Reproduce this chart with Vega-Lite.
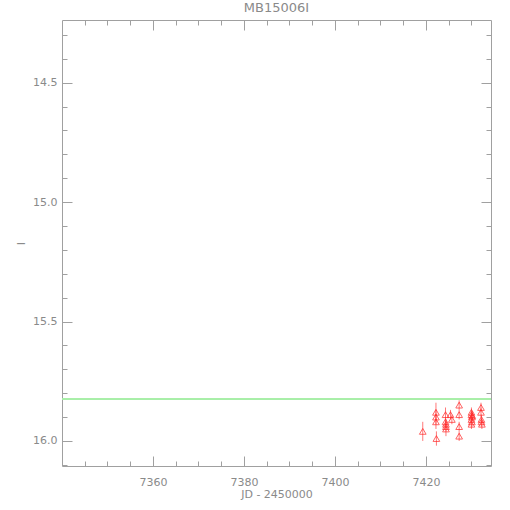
{
  "$schema": "https://vega.github.io/schema/vega-lite/v6.json",
  "autosize": "none",
  "width": 429,
  "height": 446,
  "padding": {"left": 62, "top": 20, "right": 19, "bottom": 44},
  "background": "white",
  "title": {"text": "MB15006I", "color": "#8a8a8a", "font": "DejaVu Sans", "fontSize": 13, "fontWeight": "normal", "offset": 5},
  "config": {
    "view": {"stroke": null},
    "axis": {"domainColor": "#a0a0a0", "tickColor": "#a0a0a0", "labelColor": "#8a8a8a", "titleColor": "#8a8a8a", "labelFont": "DejaVu Sans", "titleFont": "DejaVu Sans", "labelFontSize": 11, "titleFontSize": 11, "titleFontWeight": "normal", "grid": false}
  },
  "data": {"values": [
    {"jd": 7419.3, "mag": 15.96, "err": 0.04},
    {"jd": 7422.2, "mag": 15.88, "err": 0.04},
    {"jd": 7422.2, "mag": 15.90, "err": 0.03},
    {"jd": 7422.2, "mag": 15.92, "err": 0.03},
    {"jd": 7422.3, "mag": 15.99, "err": 0.03},
    {"jd": 7424.3, "mag": 15.89, "err": 0.03},
    {"jd": 7424.3, "mag": 15.92, "err": 0.02},
    {"jd": 7424.4, "mag": 15.93, "err": 0.02},
    {"jd": 7424.4, "mag": 15.94, "err": 0.02},
    {"jd": 7424.4, "mag": 15.95, "err": 0.03},
    {"jd": 7425.4, "mag": 15.89, "err": 0.02},
    {"jd": 7425.7, "mag": 15.91, "err": 0.02},
    {"jd": 7427.3, "mag": 15.85, "err": 0.02},
    {"jd": 7427.3, "mag": 15.89, "err": 0.02},
    {"jd": 7427.3, "mag": 15.94, "err": 0.02},
    {"jd": 7427.3, "mag": 15.98, "err": 0.02},
    {"jd": 7430.0, "mag": 15.88, "err": 0.02},
    {"jd": 7430.0, "mag": 15.89, "err": 0.02},
    {"jd": 7430.1, "mag": 15.90, "err": 0.02},
    {"jd": 7430.0, "mag": 15.91, "err": 0.02},
    {"jd": 7430.1, "mag": 15.92, "err": 0.02},
    {"jd": 7430.0, "mag": 15.93, "err": 0.02},
    {"jd": 7430.2, "mag": 15.895, "err": 0.02},
    {"jd": 7432.1, "mag": 15.86, "err": 0.02},
    {"jd": 7432.1, "mag": 15.88, "err": 0.02},
    {"jd": 7432.2, "mag": 15.91, "err": 0.02},
    {"jd": 7432.2, "mag": 15.92, "err": 0.02},
    {"jd": 7432.3, "mag": 15.93, "err": 0.02}
  ]},
  "transform": [
    {"calculate": "datum.mag - datum.err", "as": "lo"},
    {"calculate": "datum.mag + datum.err", "as": "hi"}
  ],
  "layer": [
    {
      "mark": {"type": "rule", "color": "#ff5555", "strokeWidth": 0.8},
      "encoding": {
        "x": {"field": "jd", "type": "quantitative", "scale": {"domain": [7340, 7434.3], "nice": false, "zero": false},
          "axis": {"orient": "bottom", "title": "JD - 2450000", "values": [7345,7350,7355,7360,7365,7370,7375,7380,7385,7390,7395,7400,7405,7410,7415,7420,7425,7430],
            "labelExpr": "datum.value % 20 == 0 ? datum.label : ''", "format": "d",
            "tickSize": {"condition": {"test": "datum.value % 20 == 0", "value": -10}, "value": -5},
            "labelPadding": 20, "titlePadding": 1, "labelFlush": false}},
        "y": {"field": "lo", "type": "quantitative", "scale": {"domain": [14.2374, 16.105], "reverse": true, "nice": false, "zero": false},
          "axis": {"orient": "left", "title": "I", "values": [14.3,14.4,14.5,14.6,14.7,14.8,14.9,15.0,15.1,15.2,15.3,15.4,15.5,15.6,15.7,15.8,15.9,16.0,16.1],
            "labelExpr": "abs(datum.value*2 - round(datum.value*2)) < 0.001 ? format(datum.value, '.1f') : ''",
            "tickSize": {"condition": {"test": "abs(datum.value*2 - round(datum.value*2)) < 0.001", "value": -10}, "value": -5},
            "labelPadding": 15, "titlePadding": 6, "labelFlush": false}},
        "y2": {"field": "hi"}
      }
    },
    {
      "mark": {"type": "point", "shape": "triangle-up", "filled": false, "color": "#ff2222", "strokeWidth": 1, "size": 45},
      "encoding": {
        "x": {"field": "jd", "type": "quantitative",
          "axis": {"orient": "top", "title": null, "labels": false, "values": [7345,7350,7355,7360,7365,7370,7375,7380,7385,7390,7395,7400,7405,7410,7415,7420,7425,7430],
            "tickSize": {"condition": {"test": "datum.value % 20 == 0", "value": -10}, "value": -5}}},
        "y": {"field": "mag", "type": "quantitative",
          "axis": {"orient": "right", "title": null, "labels": false, "values": [14.3,14.4,14.5,14.6,14.7,14.8,14.9,15.0,15.1,15.2,15.3,15.4,15.5,15.6,15.7,15.8,15.9,16.0,16.1],
            "tickSize": {"condition": {"test": "abs(datum.value*2 - round(datum.value*2)) < 0.001", "value": -10}, "value": -5}}}
      }
    },
    {
      "mark": {"type": "rule", "color": "#a8eea8", "strokeWidth": 1},
      "encoding": {"y": {"datum": 15.825, "type": "quantitative", "axis": null}}
    }
  ],
  "resolve": {"axis": {"x": "independent", "y": "independent"}}
}
